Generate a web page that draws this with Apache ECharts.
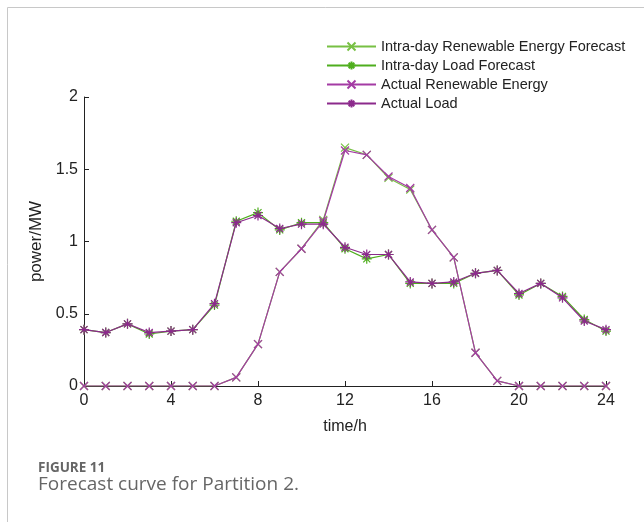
<!DOCTYPE html>
<html>
<head>
<meta charset="utf-8">
<script src="https://cdn.jsdelivr.net/npm/echarts@6/dist/echarts.min.js"></script>
<style>
  html, body { margin: 0; padding: 0; background: #fff; }
  #chart { width: 644px; height: 522px; }
</style>
</head>
<body>
<div id="chart"></div>
<script>
// Hours of the day (0..24)
const hours = [0,1,2,3,4,5,6,7,8,9,10,11,12,13,14,15,16,17,18,19,20,21,22,23,24];

// Power values in MW
const reForecast   = [0,0,0,0,0,0,0,0.06,0.29,0.79,0.95,1.15,1.65,1.60,1.44,1.36,1.08,0.89,0.23,0.035,0,0,0,0,0];
const loadForecast = [0.39,0.37,0.43,0.36,0.38,0.39,0.56,1.14,1.20,1.08,1.13,1.13,0.95,0.88,0.91,0.71,0.71,0.71,0.78,0.80,0.63,0.71,0.62,0.46,0.38];
const reActual     = [0,0,0,0,0,0,0,0.06,0.29,0.79,0.95,1.14,1.63,1.60,1.45,1.37,1.08,0.89,0.23,0.035,0,0,0,0,0];
const loadActual   = [0.39,0.37,0.43,0.37,0.38,0.39,0.57,1.13,1.18,1.09,1.12,1.12,0.96,0.91,0.91,0.72,0.71,0.72,0.78,0.80,0.64,0.71,0.61,0.45,0.39];

const xTicks = [0, 4, 8, 12, 16, 20, 24];
const yTicks = [0, 0.5, 1, 1.5, 2];

const FONT = 'Liberation Sans, Arial, sans-serif';
const CROSS = 'path://M-1,-1L1,1M-1,1L1,-1';
const STAR = 'path://M0,-1L0,1M-1,0L1,0M-0.7,-0.7L0.7,0.7M-0.7,0.7L0.7,-0.7';

function pairs(vals) { return hours.map((h, i) => [h, vals[i]]); }

function series(name, vals, color, symbol, size, z) {
  return {
    name, type: 'line', data: pairs(vals), z,
    symbol, symbolSize: size,
    lineStyle: { color, width: 1.2 },
    itemStyle: { color: 'rgba(0,0,0,0)', borderColor: color, borderWidth: 1.2 },
    emphasis: { disabled: true },
    animation: false
  };
}

const chart = echarts.init(document.getElementById('chart'), null, { renderer: 'canvas' });
chart.setOption({
  backgroundColor: '#fff',
  animation: false,
  grid: { left: 84, right: 38, top: 97, bottom: 136 },
  legend: {
    orient: 'vertical', left: 321, top: 34, itemGap: 4,
    itemWidth: 49, itemHeight: 10,
    textStyle: { fontFamily: FONT, fontSize: 14.5, color: '#222' },
    data: ['Intra-day Renewable Energy Forecast', 'Intra-day Load Forecast', 'Actual Renewable Energy', 'Actual Load']
  },
  xAxis: {
    type: 'value', min: 0, max: 24, interval: 4,
    name: 'time/h', nameLocation: 'middle', nameGap: 33,
    nameTextStyle: { fontFamily: FONT, fontSize: 16, color: '#222' },
    axisLine: { lineStyle: { color: '#222', width: 1 } },
    axisTick: { inside: true, length: 5, lineStyle: { color: '#222' } },
    axisLabel: { fontFamily: FONT, fontSize: 16, color: '#222', margin: 7,
      formatter: v => xTicks.includes(v) ? String(v) : '' },
    splitLine: { show: false }
  },
  yAxis: {
    type: 'value', min: 0, max: 2, interval: 0.5,
    name: 'power/MW', nameLocation: 'middle', nameGap: 31,
    nameTextStyle: { fontFamily: FONT, fontSize: 17, color: '#222' },
    axisLine: { show: true, lineStyle: { color: '#222', width: 1 } },
    axisTick: { show: true, inside: true, length: 5, lineStyle: { color: '#222' } },
    axisLabel: { fontFamily: FONT, fontSize: 16, color: '#222', margin: 6,
      formatter: v => yTicks.includes(v) ? String(v) : '' },
    splitLine: { show: false }
  },
  series: [
    series('Intra-day Renewable Energy Forecast', reForecast, '#77c043', CROSS, 8, 2),
    series('Intra-day Load Forecast', loadForecast, '#4fae1e', STAR, 10, 3),
    series('Actual Renewable Energy', reActual, '#a43ba4', CROSS, 8, 4),
    series('Actual Load', loadActual, '#8c2a8c', STAR, 10, 5)
  ],
  graphic: [
    { type: 'polyline', silent: true, shape: { points: [[7.5, 522], [7.5, 7.5], [644, 7.5]] },
      style: { stroke: '#c8c8c8', lineWidth: 1, fill: null } },
    { type: 'text', left: 38, top: 461, silent: true,
      style: { text: 'FIGURE 11', fontFamily: 'Open Sans, sans-serif', fontWeight: 'bold', fontSize: 13.5, fill: '#666' } },
    { type: 'text', left: 38, top: 475, silent: true,
      style: { text: 'Forecast curve for Partition 2.', fontFamily: 'Open Sans, sans-serif', fontSize: 19, fill: '#666' } }
  ]
});
</script>
</body>
</html>
